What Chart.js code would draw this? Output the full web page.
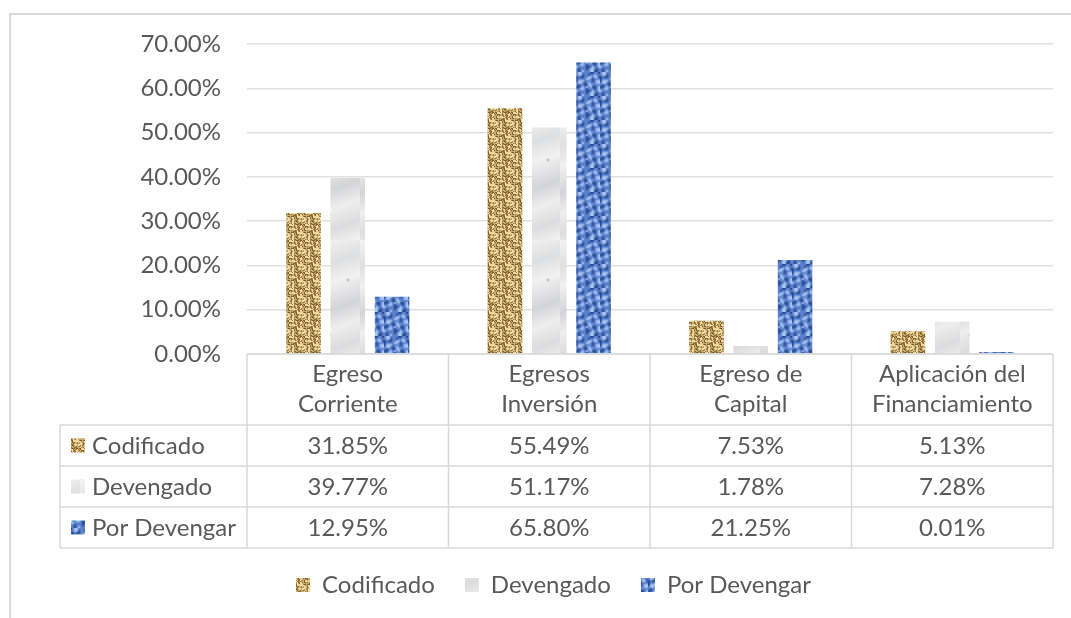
<!DOCTYPE html>
<html>
<head>
<meta charset="utf-8">
<script src="https://cdn.jsdelivr.net/npm/chart.js@4.4.1/dist/chart.umd.min.js"></script>
<style>
  html, body { margin: 0; padding: 0; background: #ffffff; }
  #wrap { position: relative; width: 1071px; height: 618px; }
</style>
</head>
<body>
<div id="wrap"><canvas id="c" width="1071" height="618"></canvas></div>
<script>
// ---- Data ----
const categories = [["Egreso", "Corriente"], ["Egresos", "Inversión"], ["Egreso de", "Capital"], ["Aplicación del", "Financiamiento"]];
const seriesNames = ["Codificado", "Devengado", "Por Devengar"];
const codificado = [31.85, 55.49, 7.53, 5.13];
const devengado = [39.77, 51.17, 1.78, 7.28];
const porDevengar = [12.95, 65.80, 21.25, 0.01];
const yTicks = [0, 10, 20, 30, 40, 50, 60, 70];

const FONT = "Lato, 'Open Sans', 'DejaVu Sans', sans-serif";
const FSIZE = 24;
const TEXT = '#595959';
const LINE = '#d9d9d9';

// ---- Texture fills (decorative, deterministic) ----
function noise(x, y, s) {
  const v = Math.sin(x * 12.9898 + y * 78.233 + s * 37.719) * 43758.5453;
  return v - Math.floor(v);
}
function tile(w, h, fn) {
  const c = document.createElement('canvas');
  c.width = w; c.height = h;
  const g = c.getContext('2d');
  const img = g.createImageData(w, h);
  for (let y = 0; y < h; y++) for (let x = 0; x < w; x++) {
    const col = fn(x, y);
    const i = (y * w + x) * 4;
    img.data[i] = col[0]; img.data[i + 1] = col[1]; img.data[i + 2] = col[2]; img.data[i + 3] = 255;
  }
  g.putImageData(img, 0, 0);
  return c;
}
function upscale(src, f) {
  const c = document.createElement('canvas');
  c.width = src.width * f; c.height = src.height * f;
  const g = c.getContext('2d');
  g.imageSmoothingEnabled = true;
  for (let dx = -1; dx <= 1; dx++) for (let dy = -1; dy <= 1; dy++) {
    g.drawImage(src, dx * c.width, dy * c.height, c.width, c.height);
  }
  return c;
}
const ctxMain = document.getElementById('c').getContext('2d');

const goldTile = tile(16, 16, (x, y) => {
  const bx = Math.floor(x / 8), by = Math.floor(y / 8);
  const horiz = (bx + by) % 2 === 0;
  const k = Math.floor((horiz ? y : x) % 8 / 2) % 2;
  const along = horiz ? x : y;
  const n = noise(x, y, 1);
  if (k === 0) {
    const edge = along % 8 === 0;
    if (edge) return [120, 92, 45];
    return n < 0.2 ? [170, 134, 74] : [236, 216, 156];
  }
  return n < 0.4 ? [138, 106, 56] : [200, 170, 108];
});
const grayTile = (function () {
  const c = document.createElement('canvas');
  c.width = 40; c.height = 120;
  const g = c.getContext('2d');
  const gr = g.createLinearGradient(0, 0, 40, 120);
  gr.addColorStop(0, '#f3f3f4');
  gr.addColorStop(0.2, '#dedfe0');
  gr.addColorStop(0.35, '#f1f1f2');
  gr.addColorStop(0.55, '#d3d4d6');
  gr.addColorStop(0.7, '#eeeeef');
  gr.addColorStop(0.85, '#dcdcde');
  gr.addColorStop(1, '#f3f3f4');
  g.fillStyle = gr; g.fillRect(0, 0, 40, 120);
  g.fillStyle = 'rgba(160,160,160,0.5)';
  g.beginPath(); g.arc(28, 40, 1.6, 0, Math.PI * 2); g.fill();
  g.beginPath(); g.arc(10, 95, 1.4, 0, Math.PI * 2); g.fill();
  return c;
})();
const blueSmall = tile(12, 12, (x, y) => {
  const v = Math.sin(x * 1.1 + y * 0.6) * Math.cos(x * 0.45 - y * 0.95) + (noise(x, y, 3) - 0.5) * 1.1;
  if (v > 0.4) return [168, 198, 244];
  if (v < -0.45) return [38, 72, 142];
  return [90, 128, 204];
});
const blueTile = upscale(blueSmall, 2);
const fills = [
  ctxMain.createPattern(goldTile, 'repeat'),
  ctxMain.createPattern(grayTile, 'repeat'),
  ctxMain.createPattern(blueTile, 'repeat')
];
const seriesValues = [codificado, devengado, porDevengar];

function fmt(v) { return v.toFixed(2) + '%'; }

// ---- Frame + data table plugin ----
const tablePlugin = {
  id: 'dataTable',
  beforeDraw(chart) {
    const c = chart.ctx;
    c.save();
    c.strokeStyle = LINE;
    c.lineWidth = 2;
    c.beginPath();
    c.moveTo(1071, 14); c.lineTo(10, 14); c.lineTo(10, 618);
    c.stroke();
    c.restore();
  },
  afterDraw(chart) {
    const c = chart.ctx;
    const area = chart.chartArea;
    const x = chart.scales.x;
    const n = categories.length;
    const cw = (area.right - area.left) / n;
    const top = area.bottom;
    const headerH = 71;
    const rowH = 41;
    const tableLeft = 60;
    const bounds = [];
    for (let i = 0; i < n; i++) bounds.push(x.getPixelForValue(i) - cw / 2);
    bounds.push(x.getPixelForValue(n - 1) + cw / 2);
    const bottom = top + headerH + rowH * seriesNames.length;

    c.save();
    c.strokeStyle = LINE;
    c.lineWidth = 1.5;
    c.beginPath();
    bounds.forEach(b => { c.moveTo(b, top); c.lineTo(b, bottom); });
    c.moveTo(tableLeft, top + headerH); c.lineTo(tableLeft, bottom);
    c.moveTo(bounds[0], top); c.lineTo(bounds[n], top);
    for (let r = 0; r <= seriesNames.length; r++) {
      const y = top + headerH + rowH * r;
      c.moveTo(tableLeft, y); c.lineTo(bounds[n], y);
    }
    c.stroke();

    c.fillStyle = TEXT;
    c.font = FSIZE + 'px ' + FONT;
    c.textAlign = 'center';
    c.textBaseline = 'middle';
    for (let i = 0; i < n; i++) {
      const cx = x.getPixelForValue(i);
      const lines = categories[i];
      const lh = 30;
      const y0 = top + headerH / 2 - (lines.length - 1) * lh / 2;
      lines.forEach((t, k) => c.fillText(t, cx, y0 + k * lh));
    }
    for (let r = 0; r < seriesNames.length; r++) {
      const cy = top + headerH + rowH * r + rowH / 2;
      c.fillStyle = fills[r];
      c.fillRect(71, cy - 7, 14, 14);
      c.fillStyle = TEXT;
      c.textAlign = 'left';
      c.fillText(seriesNames[r], 92, cy + 1);
      c.textAlign = 'center';
      for (let i = 0; i < n; i++) {
        c.fillText(fmt(seriesValues[r][i]), x.getPixelForValue(i), cy + 1);
      }
    }
    c.restore();
  }
};

new Chart(document.getElementById('c'), {
  type: 'bar',
  data: {
    labels: categories.map(l => l.join(' ')),
    datasets: seriesNames.map((name, i) => ({
      label: name,
      data: seriesValues[i],
      backgroundColor: fills[i],
      borderWidth: 0,
      minBarLength: 2,
      categoryPercentage: 0.66,
      barPercentage: 0.78
    }))
  },
  options: {
    responsive: false,
    animation: false,
    devicePixelRatio: 1,
    layout: { padding: { left: 54, right: 18, top: 44, bottom: 11 } },
    plugins: {
      tooltip: { enabled: false },
      legend: {
        position: 'bottom',
        labels: {
          color: TEXT,
          font: { family: FONT, size: FSIZE },
          boxWidth: 14,
          boxHeight: 14,
          padding: 30
        }
      }
    },
    scales: {
      x: {
        grid: { display: false },
        border: { display: false },
        ticks: { display: false },
        afterFit(scale) { scale.height = 189; }
      },
      y: {
        min: 0,
        max: 70,
        afterBuildTicks(scale) { scale.ticks = yTicks.map(v => ({ value: v })); },
        ticks: {
          color: TEXT,
          font: { family: FONT, size: FSIZE },
          padding: 26,
          callback: v => fmt(v)
        },
        grid: { color: '#e0e0e0', lineWidth: 1.5, drawTicks: false },
        border: { display: false },
        afterFit(scale) { scale.width = 193; }
      }
    }
  },
  plugins: [tablePlugin]
});
</script>
</body>
</html>
